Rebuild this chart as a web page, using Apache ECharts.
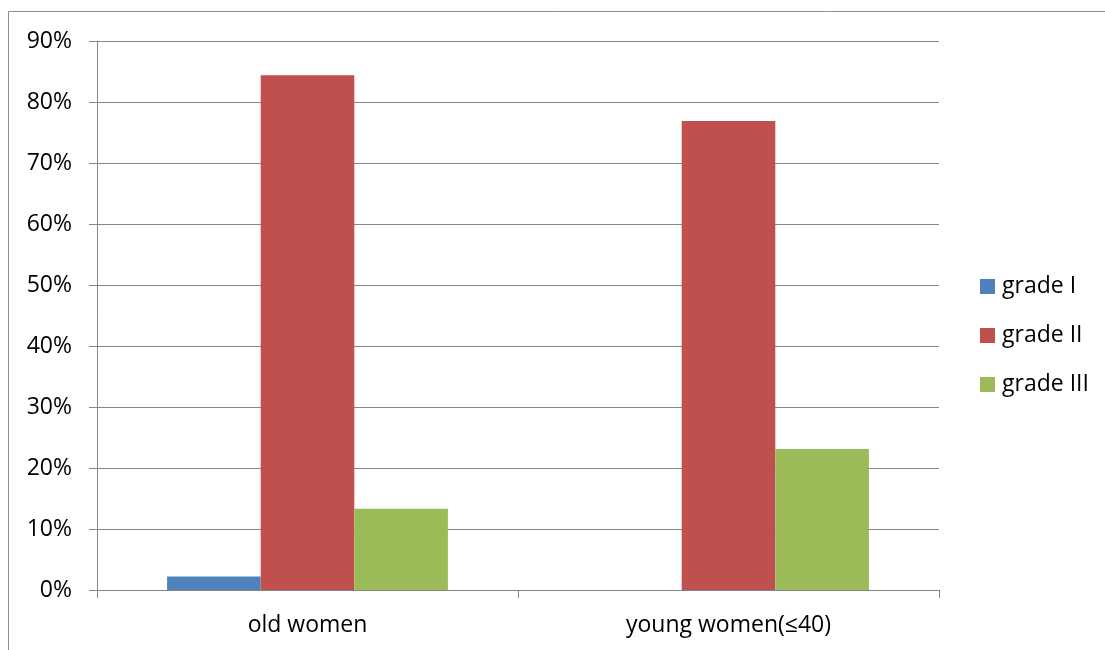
<!DOCTYPE html>
<html>
<head>
<meta charset="utf-8">
<script src="https://cdn.jsdelivr.net/npm/echarts@6/dist/echarts.min.js"></script>
<style>
html,body{margin:0;padding:0;background:#fff;}
#chart{width:1105px;height:650px;}
</style>
</head>
<body>
<div id="chart"></div>
<script>
const categories = ['old women', 'young women(≤40)'];
const gradeI = [0.022, 0];
const gradeII = [0.844, 0.769];
const gradeIII = [0.133, 0.231];
const yTicks = [0, 0.1, 0.2, 0.3, 0.4, 0.5, 0.6, 0.7, 0.8, 0.9];

const FONT = 'Open Sans';
const FS = 23;
const chart = echarts.init(document.getElementById('chart'), null, {renderer: 'canvas'});
const axisGray = '#868686';
chart.setOption({
  animation: false,
  backgroundColor: '#ffffff',
  textStyle: {fontFamily: FONT},
  graphic: [{
    type: 'rect',
    shape: {x: 8.5, y: 11.5, width: 1200, height: 700},
    style: {fill: 'none', stroke: '#8c8c8c', lineWidth: 1},
    silent: true
  }],
  grid: {left: 97, right: 166, top: 41, bottom: 60, containLabel: false},
  legend: {
    orient: 'vertical',
    left: 980,
    top: 275,
    padding: 0,
    itemWidth: 15,
    itemHeight: 15,
    itemGap: 26,
    icon: 'rect',
    textStyle: {fontFamily: FONT, fontSize: FS, color: '#000', padding: [0, 0, 0, 2]},
    data: ['grade I', 'grade II', 'grade III']
  },
  xAxis: {
    type: 'category',
    data: categories,
    axisLine: {lineStyle: {color: axisGray, width: 1}},
    axisTick: {show: true, length: 8, interval: 0, lineStyle: {color: axisGray}},
    axisLabel: {fontFamily: FONT, fontSize: FS, color: '#000', margin: 24, interval: 0}
  },
  yAxis: {
    type: 'value',
    min: 0,
    max: 0.9,
    interval: 0.1,
    axisLine: {show: true, lineStyle: {color: axisGray, width: 1}},
    axisTick: {show: true, length: 8, lineStyle: {color: axisGray}},
    axisLabel: {
      fontFamily: FONT, fontSize: FS, color: '#000', margin: 25,
      formatter: function (v) {
        const t = yTicks.find(x => Math.abs(x - v) < 1e-9);
        return Math.round((t !== undefined ? t : v) * 100) + '%';
      }
    },
    splitLine: {show: true, lineStyle: {color: axisGray, width: 1}}
  },
  series: [
    {name: 'grade I', type: 'bar', data: gradeI, itemStyle: {color: '#4f81bd'}, barGap: '0%', barCategoryGap: '33.3%'},
    {name: 'grade II', type: 'bar', data: gradeII, itemStyle: {color: '#c0504d'}, barGap: '0%', barCategoryGap: '33.3%'},
    {name: 'grade III', type: 'bar', data: gradeIII, itemStyle: {color: '#9bbb59'}, barGap: '0%', barCategoryGap: '33.3%'}
  ]
});
</script>
</body>
</html>
